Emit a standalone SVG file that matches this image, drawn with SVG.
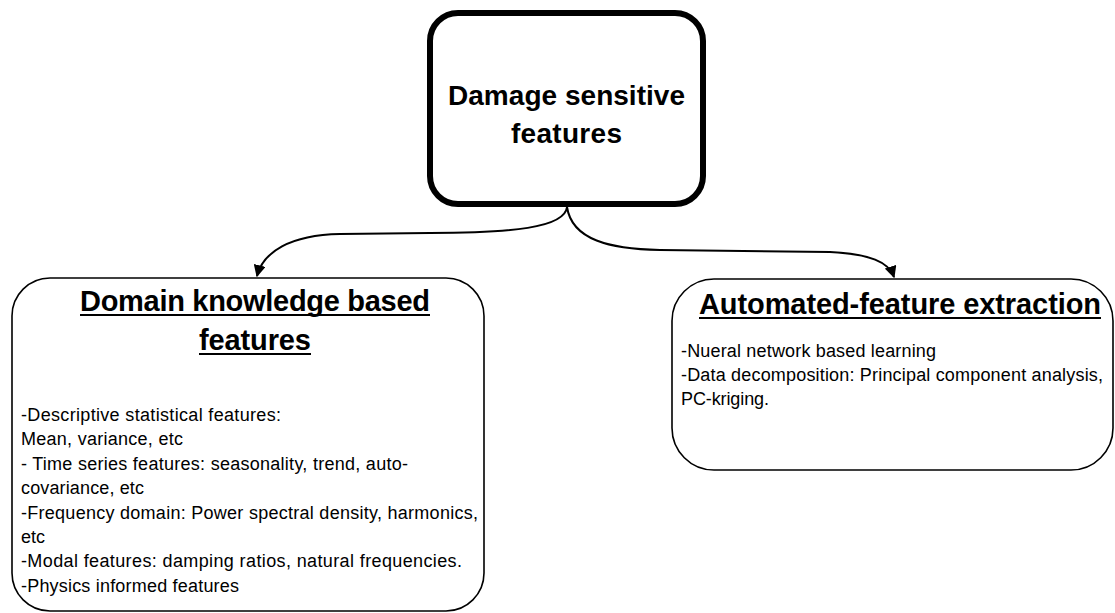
<svg xmlns="http://www.w3.org/2000/svg" width="1115" height="613" viewBox="0 0 1115 613">
<defs>
<style>
.box{fill:#fff;stroke:#000;stroke-width:1.6}
.main{fill:#fff;stroke:#000;stroke-width:6}
.title{font-family:"Liberation Sans",Arial,sans-serif;font-weight:bold;fill:#000;text-anchor:middle}
.body{font-family:"Liberation Sans",Arial,sans-serif;font-size:18px;fill:#000}
.ul{stroke:#000;stroke-width:2}
.conn{fill:none;stroke:#000;stroke-width:2}
</style>
<marker id="arr" viewBox="0 0 10 10" refX="9" refY="5" markerWidth="12" markerHeight="12" markerUnits="userSpaceOnUse" orient="auto">
<path d="M0,0 L10,5 L0,10 Z" fill="#000"/>
</marker>
</defs>
<rect width="1115" height="613" fill="#fff"/>
<g id="connectors">
<path class="conn" d="M567,207 C565,228 510,233 430,233 L340,234 C290,235 263,252 257,276" marker-end="url(#arr)"/>
<path class="conn" d="M567,207 C572,240 610,249 660,250 L830,252 C870,254 889,262 894,277" marker-end="url(#arr)"/>
</g>
<g id="node-damage">
<rect class="main" x="430" y="13" width="273" height="191" rx="28"/>
<text class="title" font-size="28" x="566.5" y="105" textLength="237">Damage sensitive</text>
<text class="title" font-size="28" x="566.5" y="143" textLength="111">features</text>
</g>
<g id="node-domain">
<rect class="box" x="12" y="278" width="472" height="333" rx="38"/>
<text class="title" font-size="29" x="255" y="311" textLength="350">Domain knowledge based</text>
<line class="ul" x1="80" y1="315" x2="430" y2="315"/>
<text class="title" font-size="29" x="255" y="350" textLength="112">features</text>
<line class="ul" x1="199" y1="354" x2="311" y2="354"/>
<text class="body" x="21" y="421" textLength="260">-Descriptive statistical features:</text>
<text class="body" x="21" y="445" textLength="162">Mean, variance, etc</text>
<text class="body" x="21" y="470" textLength="387">- Time series features: seasonality, trend, auto-</text>
<text class="body" x="21" y="494" textLength="123">covariance, etc</text>
<text class="body" x="21" y="519" textLength="457">-Frequency domain: Power spectral density, harmonics,</text>
<text class="body" x="21" y="543" textLength="24">etc</text>
<text class="body" x="21" y="567" textLength="441">-Modal features: damping ratios, natural frequencies.</text>
<text class="body" x="21" y="592" textLength="218">-Physics informed features</text>
</g>
<g id="node-auto">
<rect class="box" x="672" y="279" width="441" height="191" rx="42"/>
<text class="title" font-size="29" x="900" y="314" textLength="402">Automated-feature extraction</text>
<line class="ul" x1="699" y1="318" x2="1101" y2="318"/>
<text class="body" x="681" y="357" textLength="255">-Nueral network based learning</text>
<text class="body" x="681" y="381" textLength="422">-Data decomposition: Principal component analysis,</text>
<text class="body" x="681" y="405" textLength="88">PC-kriging.</text>
</g>
</svg>
